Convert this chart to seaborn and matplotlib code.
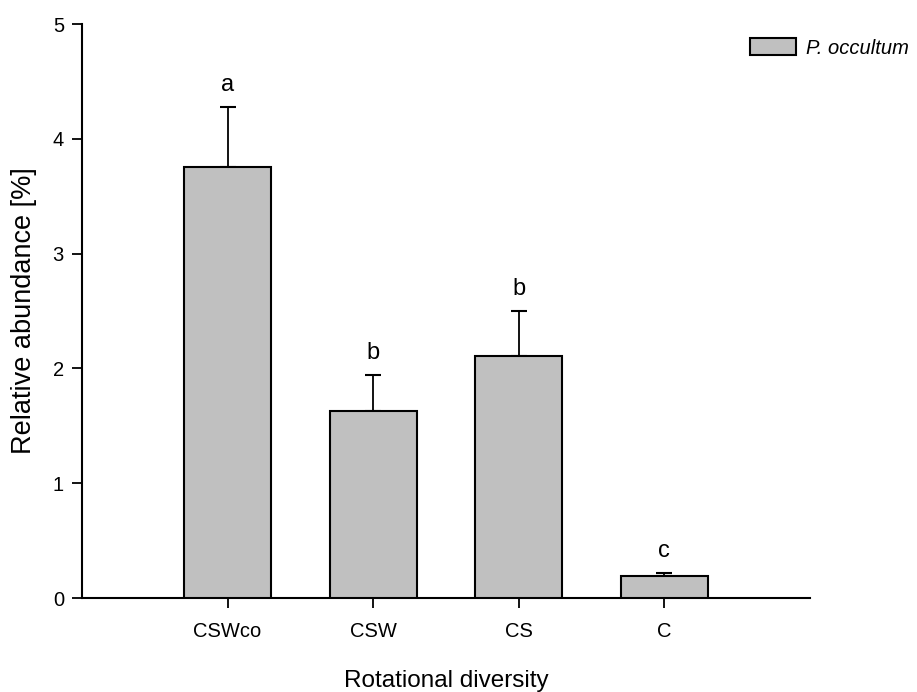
import matplotlib
matplotlib.use("Agg")
import matplotlib.pyplot as plt
import seaborn as sns
import pandas as pd
from matplotlib.patches import Patch

categories = ["CSWco", "CSW", "CS", "C"]
means = [3.75, 1.63, 2.11, 0.19]
errors = [0.53, 0.31, 0.39, 0.03]
letters = ["a", "b", "b", "c"]
series_name = "P. occultum"

sns.set_theme(style="white")
plt.rcParams['font.family'] = ['Liberation Sans', 'DejaVu Sans']
plt.rcParams['text.color'] = 'black'
plt.rcParams['axes.labelcolor'] = 'black'

df = pd.DataFrame({"Rotation": categories, "Abundance": means})

fig = plt.figure(figsize=(9.17, 6.92), dpi=100)
ax = fig.add_axes([82/917, 94/692, (810-82)/917, (598-24)/692])

bar_color = "#c0c0c0"
sns.barplot(data=df, x="Rotation", y="Abundance", order=categories, color=bar_color,
            width=0.6, edgecolor="black", linewidth=1.5, saturation=1, ax=ax, zorder=3,
            errorbar=None)

xs = list(range(len(categories)))
ax.errorbar(xs, means, yerr=[[0]*len(errors), errors], fmt="none", ecolor="black",
            elinewidth=1.3, capsize=6, capthick=1.5, zorder=2)

for x, m, e, l in zip(xs, means, errors, letters):
    ax.text(x, m + e + 0.14, l, ha="center", va="baseline", fontsize=17, color="black")

ax.set_xlim(-1, 4)
ax.set_ylim(0, 5)
ax.set_yticks([0, 1, 2, 3, 4, 5])
ax.set_xlabel("Rotational diversity", fontsize=17.5, labelpad=21)
ax.set_ylabel("Relative abundance [%]", fontsize=19.5, labelpad=11)
ax.tick_params(axis="both", direction="out", length=7, width=1.3, labelsize=14.5,
               bottom=True, left=True, colors="black")
ax.tick_params(axis="x", pad=10)
ax.tick_params(axis="y", pad=6)
for s in ["top", "right"]:
    ax.spines[s].set_visible(False)
for s in ["left", "bottom"]:
    ax.spines[s].set_linewidth(1.5)
    ax.spines[s].set_color("black")

handle = Patch(facecolor=bar_color, edgecolor="black", linewidth=1.5, label=series_name)
leg = fig.legend(handles=[handle], loc="upper left", bbox_to_anchor=(750/917, 1 - 38/692),
                 frameon=False, fontsize=14.5, handlelength=2.3, handleheight=0.95,
                 handletextpad=0.5, borderpad=0, borderaxespad=0)
for t in leg.get_texts():
    t.set_fontstyle("italic")
    t.set_color("black")

fig.savefig("out.png", dpi=100)
